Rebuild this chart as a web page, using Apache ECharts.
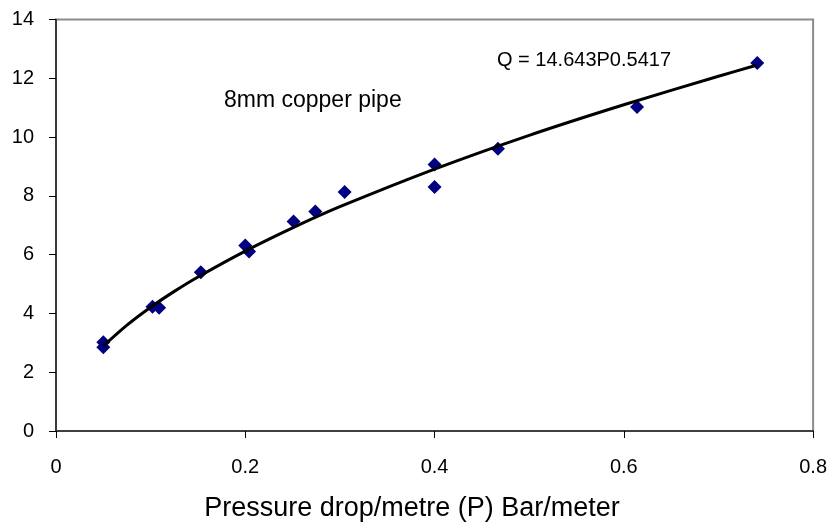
<!DOCTYPE html>
<html>
<head>
<meta charset="utf-8">
<script src="https://cdn.jsdelivr.net/npm/echarts@6/dist/echarts.min.js"></script>
<style>
html,body{margin:0;padding:0;background:#fff;}
#chart{width:830px;height:525px;}
</style>
</head>
<body>
<div id="chart"></div>
<script>
// Measured data points (pressure drop per metre, flow)
var pressure = [0.05, 0.05, 0.102, 0.109, 0.153, 0.200, 0.204, 0.251, 0.274, 0.305, 0.400, 0.400, 0.467, 0.614, 0.741];
var flow     = [3.02, 2.85, 4.23, 4.19, 5.40, 6.31, 6.11, 7.13, 7.47, 8.13, 9.07, 8.30, 9.60, 11.02, 12.52];
// Trend line
var trendP = [0.05, 0.075, 0.1, 0.125, 0.15, 0.2, 0.25, 0.3, 0.4, 0.5, 0.6, 0.7, 0.741];
var trendQ = [2.89, 3.60, 4.21, 4.75, 5.24, 6.12, 6.91, 7.63, 8.91, 10.06, 11.10, 12.07, 12.45];
var xTicks = [0, 0.2, 0.4, 0.6, 0.8];
var yTicks = [0, 2, 4, 6, 8, 10, 12, 14];
var xTitle = 'Pressure drop/metre (P) Bar/meter';
var noteText = '8mm copper pipe';
var eqText = 'Q = 14.643P0.5417';

var chart = echarts.init(document.getElementById('chart'), null, {renderer: 'canvas'});
var font = 'Liberation Sans, Arial, sans-serif';
var scatterData = pressure.map(function (p, i) { return [p, flow[i]]; });
var trendData = trendP.map(function (p, i) { return [p, trendQ[i]]; });

chart.setOption({
  animation: false,
  backgroundColor: '#ffffff',
  grid: {
    left: 56, right: 12, top: 19.5, bottom: 94,
    show: true, borderColor: '#8c8c8c', borderWidth: 2, backgroundColor: 'transparent'
  },
  xAxis: {
    type: 'value',
    min: xTicks[0], max: xTicks[xTicks.length - 1], interval: 0.2,
    axisLine: {show: true, onZero: false, lineStyle: {color: '#404040', width: 2}},
    axisTick: {show: true, inside: false, length: 7, lineStyle: {color: '#000', width: 1}},
    splitLine: {show: false},
    axisLabel: {color: '#000', fontFamily: font, fontSize: 20, margin: 26,
      formatter: function (v) { return String(v); }}
  },
  yAxis: {
    type: 'value',
    min: yTicks[0], max: yTicks[yTicks.length - 1], interval: 2,
    axisLine: {show: true, onZero: false, lineStyle: {color: '#202020', width: 1.5}},
    axisTick: {show: true, inside: false, length: 7, lineStyle: {color: '#000', width: 1}},
    splitLine: {show: false},
    axisLabel: {color: '#000', fontFamily: font, fontSize: 20, margin: 22}
  },
  graphic: [
    {type: 'text', x: 412, y: 495, style: {text: xTitle, fontFamily: font, fontSize: 27, fill: '#000', align: 'center', verticalAlign: 'top'}},
    {type: 'text', x: 224, y: 89, style: {text: noteText, fontFamily: font, fontSize: 23, fill: '#000', verticalAlign: 'top'}},
    {type: 'text', x: 497, y: 50, style: {text: eqText, fontFamily: font, fontSize: 20, fill: '#000', verticalAlign: 'top'}}
  ],
  series: [
    {
      type: 'scatter',
      data: scatterData,
      symbol: 'diamond',
      symbolSize: [14, 14],
      itemStyle: {color: '#000080', opacity: 1},
      z: 2
    },
    {
      type: 'line',
      data: trendData,
      smooth: 0.3,
      showSymbol: false,
      symbol: 'none',
      lineStyle: {color: '#000', width: 3},
      z: 3
    }
  ]
});
</script>
</body>
</html>
